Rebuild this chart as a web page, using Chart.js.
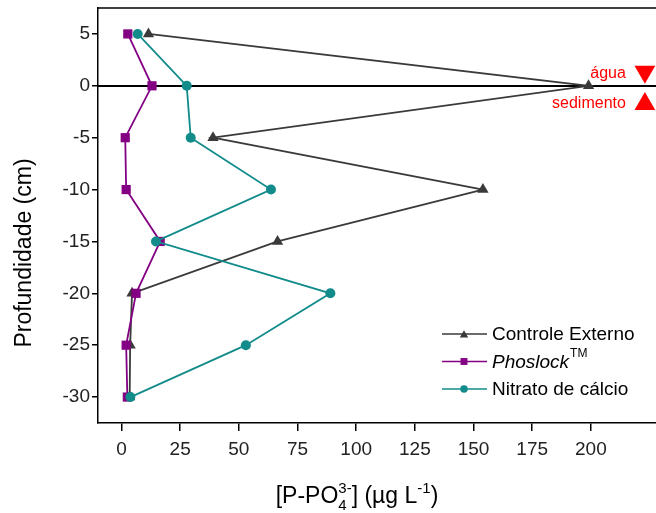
<!DOCTYPE html>
<html>
<head>
<meta charset="utf-8">
<title>Perfil de fósforo</title>
<script src="https://cdn.jsdelivr.net/npm/chart.js@4.4.1/dist/chart.umd.min.js"></script>
<style>
  html, body { margin: 0; padding: 0; background: #fff; overflow: hidden; }
  #wrap { width: 680px; height: 513px; }
</style>
</head>
<body>
<div id="wrap"><canvas id="perfil" width="680" height="513"></canvas></div>
<script>
// profundidade (cm) e [P-PO4] (ug/L) por tratamento
const profundidade = [5, 0, -5, -10, -15, -20, -25, -30]
const controleExterno = [11.5, 199, 39, 154, 66.5, 4.5, 3.7, 3.5]
const phoslock = [2.7, 13, 1.6, 2, 16.5, 6.2, 2, 2.5]
const nitratoCalcio = [6.9, 27.8, 29.5, 63.7, 14.7, 89, 53, 3.8]

const xTicks = [0, 25, 50, 75, 100, 125, 150, 175, 200]
const yTicks = [5, 0, -5, -10, -15, -20, -25, -30]

// marcadores da interface água / sedimento
const interfaceLabels = ['água', 'sedimento']
const interfaceX = [223, 223]
const interfaceY = [1.35, -1.75]

const FONT = '"Liberation Sans", Arial, sans-serif'

const pts = vals => vals.map((v, i) => ({ x: v, y: profundidade[i] }))

const drawMarker = (ctx, style, x, y, r) => {
    ctx.beginPath()
    if (style === 'triangle') {
        ctx.moveTo(x, y - r)
        ctx.lineTo(x + r * Math.sin(Math.PI * 2 / 3), y - r * Math.cos(Math.PI * 2 / 3))
        ctx.lineTo(x - r * Math.sin(Math.PI * 2 / 3), y - r * Math.cos(Math.PI * 2 / 3))
        ctx.closePath()
    } else if (style === 'rect') {
        const s = r * Math.SQRT1_2
        ctx.rect(x - s, y - s, 2 * s, 2 * s)
    } else {
        ctx.arc(x, y, r, 0, Math.PI * 2)
    }
    ctx.fill()
}

// moldura, linha do zero, textos das interfaces, legenda e títulos
const extras = {
    id: 'extras',
    beforeDatasetsDraw(chart) {
        const { ctx, chartArea: a, scales } = chart
        ctx.save()
        ctx.strokeStyle = '#000'
        ctx.lineWidth = 2
        const y0 = Math.round(scales.y.getPixelForValue(0))
        ctx.beginPath()
        ctx.moveTo(a.left, y0)
        ctx.lineTo(a.right, y0)
        ctx.stroke()
        ctx.lineWidth = 1.5
        ctx.beginPath()
        ctx.moveTo(a.left, a.top)
        ctx.lineTo(a.right, a.top)
        ctx.lineTo(a.right, a.bottom)
        ctx.stroke()
        ctx.restore()
    },
    afterDraw(chart) {
        const { ctx, scales } = chart
        ctx.save()

        // água / sedimento
        ctx.fillStyle = '#ff0000'
        ctx.font = '16px ' + FONT
        ctx.textAlign = 'right'
        ctx.textBaseline = 'alphabetic'
        const base = [78, 108]
        interfaceLabels.forEach((t, i) => {
            const px = scales.x.getPixelForValue(interfaceX[i]) - 19
            ctx.fillText(t, px, base[i])
        })

        // legenda
        const rows = [334, 361.5, 389]
        const series = chart.data.datasets.slice(0, 3)
        ctx.textAlign = 'left'
        ctx.textBaseline = 'middle'
        series.forEach((ds, i) => {
            const y = rows[i]
            ctx.strokeStyle = ds.borderColor
            ctx.lineWidth = 1.5
            ctx.beginPath()
            ctx.moveTo(442, y)
            ctx.lineTo(487, y)
            ctx.stroke()
            ctx.fillStyle = ds.backgroundColor
            drawMarker(ctx, ds.pointStyle, 464, y + (ds.pointStyle === 'triangle' ? 1 : 0), ds.pointRadius * 0.75)
            ctx.fillStyle = '#000'
            if (ds.label === 'Phoslock') {
                ctx.font = 'italic 19px ' + FONT
                ctx.fillText(ds.label, 492, y + 1)
                const w = ctx.measureText(ds.label).width
                ctx.font = '12px ' + FONT
                ctx.fillText('TM', 492 + w + 1, y - 8)
            } else {
                ctx.font = '19px ' + FONT
                ctx.fillText(ds.label, 492, y + 1)
            }
        })

        // título eixo y
        ctx.fillStyle = '#000'
        ctx.font = '23px ' + FONT
        ctx.textAlign = 'center'
        ctx.textBaseline = 'middle'
        ctx.translate(25, 253)
        ctx.rotate(-Math.PI / 2)
        ctx.fillText('Profundidade (cm)', 0, 0)
        ctx.setTransform(1, 0, 0, 1, 0, 0)

        // título eixo x: [P-PO4 3-] (µg L-1)
        const big = '23px ' + FONT, small = '15px ' + FONT
        const parts = [
            { t: '[P-PO', f: big, dy: 0 },
            { t: '4', f: small, dy: 7, stack: '3-' },
            { t: '] (µg L', f: big, dy: 0 },
            { t: '-1', f: small, dy: -10 },
            { t: ')', f: big, dy: 0 }
        ]
        const widthOf = p => {
            ctx.font = p.f
            let w = ctx.measureText(p.t).width
            if (p.stack) w = Math.max(w, ctx.measureText(p.stack).width)
            return w
        }
        const total = parts.reduce((s, p) => s + widthOf(p), 0)
        let x = 357 - total / 2
        ctx.textAlign = 'left'
        ctx.textBaseline = 'alphabetic'
        parts.forEach(p => {
            const w = widthOf(p)
            ctx.font = p.f
            ctx.fillText(p.t, x, 503 + p.dy)
            if (p.stack) ctx.fillText(p.stack, x, 503 - 10)
            x += w
        })
        ctx.restore()
    }
}

const tickFont = { family: FONT, size: 19 }

new Chart(document.getElementById('perfil'), {
    type: 'scatter',
    data: {
        datasets: [
            {
                label: 'Controle Externo',
                data: pts(controleExterno),
                showLine: true,
                borderColor: '#3a3a3a',
                backgroundColor: '#3a3a3a',
                borderWidth: 1.8,
                pointStyle: 'triangle',
                pointRadius: 6.5,
                pointBorderWidth: 0,
                order: 2
            },
            {
                label: 'Phoslock',
                data: pts(phoslock),
                showLine: true,
                borderColor: '#830083',
                backgroundColor: '#830083',
                borderWidth: 1.8,
                pointStyle: 'rect',
                pointRadius: 6.5,
                pointBorderWidth: 0,
                order: 1
            },
            {
                label: 'Nitrato de cálcio',
                data: pts(nitratoCalcio),
                showLine: true,
                borderColor: '#128b8b',
                backgroundColor: '#128b8b',
                borderWidth: 1.8,
                pointStyle: 'circle',
                pointRadius: 5,
                pointBorderWidth: 0,
                order: 0
            },
            {
                label: 'interface',
                data: interfaceX.map((v, i) => ({ x: v, y: interfaceY[i] })),
                showLine: false,
                backgroundColor: '#ff0000',
                borderColor: '#ff0000',
                pointStyle: 'triangle',
                pointRadius: 12,
                pointRotation: [180, 0],
                pointBorderWidth: 0,
                order: 3
            }
        ]
    },
    options: {
        responsive: false,
        animation: false,
        devicePixelRatio: 1,
        layout: { autoPadding: false, padding: { top: 8, right: 14, left: 0, bottom: 0 } },
        plugins: {
            legend: { display: false },
            tooltip: { enabled: false }
        },
        scales: {
            x: {
                type: 'linear',
                min: -10,
                max: 232,
                afterFit: s => { s.height = 90; s.paddingLeft = 0; s.paddingRight = 0 },
                afterBuildTicks: s => { s.ticks = xTicks.map(v => ({ value: v })) },
                border: { color: '#000', width: 1.5 },
                grid: { drawOnChartArea: false, tickLength: 8, color: '#000', lineWidth: 1.5 },
                ticks: { font: tickFont, color: '#222', padding: 7, maxRotation: 0, autoSkip: false }
            },
            y: {
                type: 'linear',
                min: -32.5,
                max: 7.5,
                afterFit: s => { s.width = 98; s.paddingTop = 0; s.paddingBottom = 0 },
                afterBuildTicks: s => { s.ticks = yTicks.map(v => ({ value: v })) },
                border: { color: '#000', width: 1.5 },
                grid: { drawOnChartArea: false, tickLength: 6, color: '#000', lineWidth: 1.5 },
                ticks: { font: tickFont, color: '#222', padding: 2, autoSkip: false }
            }
        }
    },
    plugins: [extras]
})
</script>
</body>
</html>
